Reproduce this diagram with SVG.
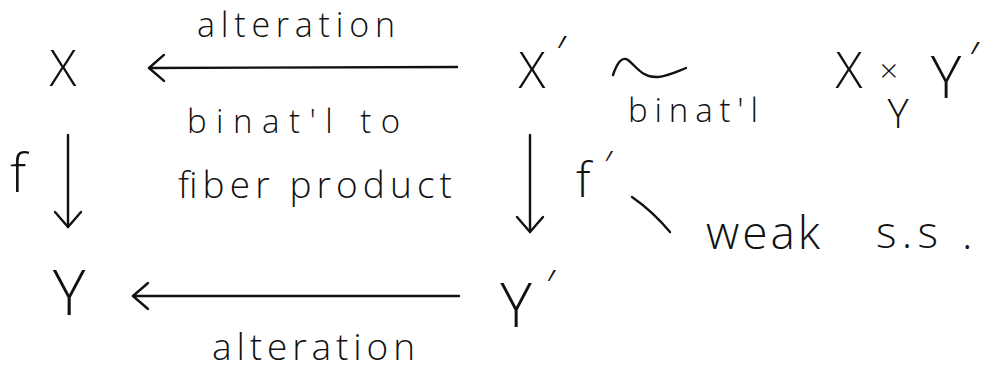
<svg xmlns="http://www.w3.org/2000/svg" width="995" height="381" viewBox="0 0 995 381">
<style>
text{font-family:"Open Sans","Liberation Sans",sans-serif;font-weight:300;fill:#111}
.ln{stroke:#111;stroke-width:2.4;fill:none;stroke-linecap:round;stroke-linejoin:round}
</style>
<defs>
<marker id="ah" viewBox="-17 -15 19 30" refX="0" refY="0" markerWidth="19" markerHeight="30" markerUnits="userSpaceOnUse" orient="auto">
<path d="M-15,-13 L0,0 L-15,13" fill="none" stroke="#111" stroke-width="2.4" stroke-linecap="round" stroke-linejoin="round"/>
</marker>
</defs>
<rect width="995" height="381" fill="#fff"/>
<g id="connectors">
<line class="ln" x1="457" y1="67" x2="149" y2="68" marker-end="url(#ah)"/>
<line class="ln" x1="459" y1="296" x2="133" y2="296" marker-end="url(#ah)"/>
<line class="ln" x1="68" y1="135" x2="68" y2="227" marker-end="url(#ah)"/>
<line class="ln" x1="530" y1="135" x2="530" y2="232" marker-end="url(#ah)"/>
<path class="ln" d="M613,75 C617,63 622,56 628,60 C636,66 642,78 658,77 C668,76 678,71 686,68"/>
<path class="ln" d="M632,197 C645,206 660,220 670,232"/>
<text x="197" y="37" font-size="34" textLength="198" lengthAdjust="spacing">alteration</text>
<text x="187" y="133" font-size="33" textLength="213" lengthAdjust="spacing">binat'l to</text>
<text x="178" y="198" font-size="37" textLength="274" lengthAdjust="spacing">fiber product</text>
<text x="212" y="360" font-size="37" textLength="203" lengthAdjust="spacing">alteration</text>
<text x="628" y="122" font-size="33" textLength="130" lengthAdjust="spacing">binat'l</text>
<text x="706" y="249" font-size="46" textLength="114" lengthAdjust="spacing">weak</text>
<text x="876" y="248" font-size="44" textLength="62" lengthAdjust="spacing">s.s</text>
<text x="962" y="249" font-size="44">.</text>
<text x="10" y="192" font-size="54">f</text>
<text x="576" y="197" font-size="48">f<tspan x="604" y="180" font-size="40">′</tspan></text>
</g>
<g id="X"><text x="63" y="86" font-size="50" text-anchor="middle">X</text></g>
<g id="Xp"><text x="532" y="88" font-size="50" text-anchor="middle">X</text><text x="556" y="70" font-size="48">′</text></g>
<g id="Y"><text x="69" y="315" font-size="62" text-anchor="middle">Y</text></g>
<g id="Yp"><text x="516" y="327" font-size="60" text-anchor="middle">Y</text><text x="546" y="302" font-size="44">′</text></g>
<g id="XxYYp">
<text x="849" y="88" font-size="50" text-anchor="middle">X</text>
<text x="889" y="82" font-size="32" text-anchor="middle">×</text>
<text x="898" y="128" font-size="40" text-anchor="middle">Y</text>
<text x="946" y="98" font-size="58" text-anchor="middle">Y</text>
<text x="969" y="76" font-size="48">′</text>
</g>
</svg>
